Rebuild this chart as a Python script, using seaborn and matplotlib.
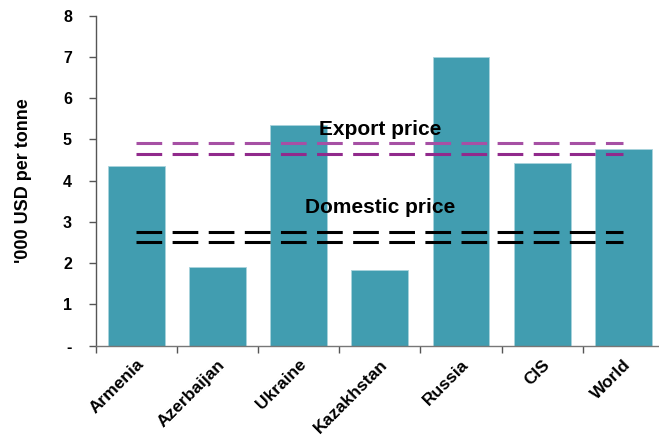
import matplotlib
matplotlib.use("Agg")
import matplotlib.pyplot as plt
import seaborn as sns
import pandas as pd
import numpy as np

countries = ["Armenia", "Azerbaijan", "Ukraine", "Kazakhstan", "Russia", "CIS", "World"]
values = [4.36, 1.91, 5.35, 1.84, 7.0, 4.43, 4.76]
export_price = [4.92, 4.64]
domestic_price = [2.76, 2.51]
yticks = [0, 1, 2, 3, 4, 5, 6, 7, 8]
ytick_labels = ["-", "1", "2", "3", "4", "5", "6", "7", "8"]

sns.set_theme(style="white")
plt.rcParams["font.family"] = ["Liberation Sans", "DejaVu Sans"]
plt.rcParams["text.color"] = "black"
plt.rcParams["xtick.color"] = "black"
plt.rcParams["ytick.color"] = "black"
plt.rcParams["axes.labelcolor"] = "black"

fig = plt.figure(figsize=(6.59, 4.43), dpi=100)
ax = fig.add_axes([95.5 / 659, (443 - 345.7) / 443, (664 - 95.5) / 659, 330 / 443])

df = pd.DataFrame({"country": countries, "value": values})
sns.barplot(data=df, x="country", y="value", color="#419DB0", saturation=1,
            width=0.7, edgecolor="#A9D3DC", linewidth=0.6, ax=ax)

x0, x1 = 0, len(countries) - 1
lw = 2.2
dash = (18.5 / lw, 7.5 / lw)
ax.plot([x0, x1], [export_price[0]] * 2, color="#A650A4", lw=lw, dashes=dash, dash_capstyle="butt")
ax.plot([x0, x1], [export_price[1]] * 2, color="#912A8C", lw=lw, dashes=dash, dash_capstyle="butt")
ax.plot([x0, x1], [domestic_price[0]] * 2, color="black", lw=lw, dashes=dash, dash_capstyle="butt")
ax.plot([x0, x1], [domestic_price[1]] * 2, color="black", lw=lw, dashes=dash, dash_capstyle="butt")

ax.text(3, 5.23, "Export price", ha="center", va="center", fontsize=15, fontweight="bold")
ax.text(3, 3.34, "Domestic price", ha="center", va="center", fontsize=15, fontweight="bold")

ax.set_xlim(-0.5, len(countries) - 0.5)
ax.set_ylim(0, 8)
ax.set_yticks(yticks)
ax.set_yticklabels(ytick_labels, fontsize=11.5, fontweight="bold")
ax.tick_params(axis="y", direction="out", length=5, width=1, color="#555555", pad=12, left=True)

ax.set_xticks(range(len(countries)))
ax.set_xticklabels(countries, rotation=45, ha="right", rotation_mode="anchor",
                   fontsize=12.5, fontweight="bold")
ax.tick_params(axis="x", length=0, pad=8)
ax.set_xticks(np.arange(-0.5, len(countries), 1), minor=True)
ax.tick_params(axis="x", which="minor", direction="out", length=5, width=1, color="#555555", bottom=True)

ax.set_xlabel("")
ax.set_ylabel("'000 USD per tonne", fontsize=13, fontweight="bold", labelpad=22)

for s in ["top", "right"]:
    ax.spines[s].set_visible(False)
ax.spines["left"].set_color("#555555")
ax.spines["bottom"].set_color("#777777")
ax.spines["left"].set_linewidth(1)
ax.spines["bottom"].set_linewidth(1)

fig.savefig("out.png", dpi=100)
